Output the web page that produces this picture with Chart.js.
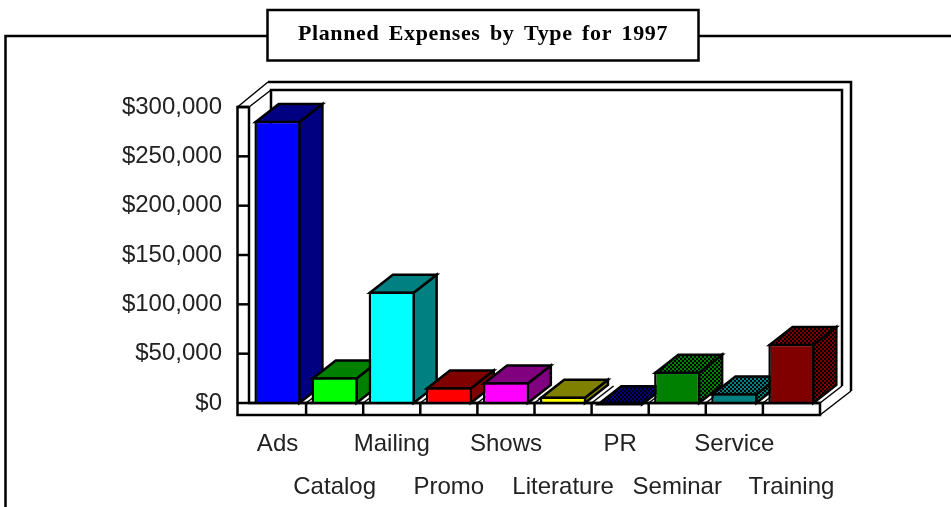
<!DOCTYPE html>
<html>
<head>
<meta charset="utf-8">
<style>html,body{margin:0;padding:0;background:#fff}canvas{display:block}</style>
<script src="https://cdn.jsdelivr.net/npm/chart.js@4"></script>
</head>
<body>
<canvas id="c" width="951" height="507"></canvas>
<script>
const chartTitle = "Planned Expenses by Type for 1997";
const categories = ["Ads","Catalog","Mailing","Promo","Shows","Literature","PR","Seminar","Service","Training"];
const plannedExpenses = [286000,26000,113000,16000,21000,6500,0,32000,10000,60000];
const frontColors = ["#0000ff","#00ff00","#00ffff","#ff0000","#ff00ff","#ffff00","#000080","#008000","#008080","#800000"];
const depthColors = ["#000080","#008000","#008080","#800000","#800080","#808000","#000080","#008000","#008080","#800000"];
const ditheredDepth = [false,false,false,false,false,false,true,true,true,true];

const INK = "#000";
const DEPTH = {x:22, y:17};
const BAR_DEPTH = {x:23, y:18};
const OUTER = {x:31, y:25};

function dither(ctx, color){
  const p = document.createElement("canvas");
  p.width = p.height = 4;
  const g = p.getContext("2d");
  g.fillStyle = "#000"; g.fillRect(0,0,4,4);
  g.fillStyle = color; g.fillRect(0,0,2,2); g.fillRect(2,2,2,2);
  return ctx.createPattern(p,"repeat");
}
function line(ctx, pts){
  ctx.beginPath();
  pts.forEach((p,i)=> i ? ctx.lineTo(p[0],p[1]) : ctx.moveTo(p[0],p[1]));
  ctx.stroke();
}
function poly(ctx, pts, fill){
  ctx.beginPath();
  pts.forEach((p,i)=> i ? ctx.lineTo(p[0],p[1]) : ctx.moveTo(p[0],p[1]));
  ctx.closePath();
  ctx.fillStyle = fill; ctx.fill(); ctx.stroke();
}

const scene = {
  id: "scene",
  beforeDraw(chart){
    const ctx = chart.ctx;
    ctx.save();
    ctx.fillStyle = "#fff"; ctx.fillRect(0,0,chart.width,chart.height);
    ctx.strokeStyle = INK; ctx.lineWidth = 2.5;
    line(ctx, [[5.5,507],[5.5,36],[951,36]]);
    ctx.fillStyle = "#fff";
    ctx.fillRect(267.5,10,431,50.5);
    ctx.strokeRect(267.5,10,431,50.5);
    ctx.restore();
    ctx.wordSpacing = "3.5px";
    ctx.letterSpacing = "0.6px";
  },
  beforeDatasetsDraw(chart){
    const ctx = chart.ctx, a = chart.chartArea, ys = chart.scales.y;
    ctx.wordSpacing = "0px"; ctx.letterSpacing = "0px";
    ctx.save();
    ctx.strokeStyle = INK; ctx.lineWidth = 2.5; ctx.lineJoin = "miter";
    const wallW = 11.5, floorH = 12;
    const L = a.left, R = a.right, T = a.top, B = a.bottom;
    // back wall
    line(ctx, [[L+DEPTH.x,B-DEPTH.y],[L+DEPTH.x,T-DEPTH.y],[R+DEPTH.x,T-DEPTH.y],[R+DEPTH.x,B-DEPTH.y]]);
    line(ctx, [[L-wallW+OUTER.x-.5,T-OUTER.y],[R+OUTER.x,T-OUTER.y],[R+OUTER.x,B+floorH-OUTER.y+1]]);
    // slanted edges
    ctx.lineWidth = 1.5;
    line(ctx, [[L-wallW,T],[L-wallW+OUTER.x-.5,T-OUTER.y]]);
    line(ctx, [[L,T],[L+DEPTH.x,T-DEPTH.y]]);
    line(ctx, [[R,B],[R+DEPTH.x,B-DEPTH.y]]);
    line(ctx, [[R,B+floorH],[R+OUTER.x,B+floorH-OUTER.y+1]]);
    // floor slants
    const n = categories.length, step = (R-L)/n;
    for(let i=1;i<n;i++){
      const x = L + i*step;
      line(ctx, [[x,B],[x+DEPTH.x,B-DEPTH.y]]);
    }
    // side wall and front floor
    ctx.lineWidth = 2.5;
    line(ctx, [[L,T],[L,B],[R,B],[R,B+floorH],[L-wallW,B+floorH],[L-wallW,T],[L,T]]);
    for(let i=1;i<n;i++){
      const x = L + i*step;
      line(ctx, [[x,B],[x,B+floorH]]);
    }
    ys.ticks.forEach((t,i)=>{
      const y = ys.getPixelForTick(i);
      line(ctx, [[L-wallW,y],[L,y]]);
    });
    // bar depth faces, painted left to right
    const meta = chart.getDatasetMeta(0);
    const inset = 1.25;
    meta.data.forEach((bar,i)=>{
      const hw = bar.width/2, l = bar.x-hw+inset, r = bar.x+hw-inset, t = bar.y+inset, b = bar.base;
      const fill = ditheredDepth[i] ? dither(ctx, depthColors[i]) : depthColors[i];
      poly(ctx, [[r,b],[r+BAR_DEPTH.x,b-BAR_DEPTH.y],[r+BAR_DEPTH.x,t-BAR_DEPTH.y],[r,t]], fill);
      poly(ctx, [[l,t],[l+BAR_DEPTH.x,t-BAR_DEPTH.y],[r+BAR_DEPTH.x,t-BAR_DEPTH.y],[r,t]], fill);
    });
    ctx.restore();
  },
  afterDatasetsDraw(chart){
    const ctx = chart.ctx, a = chart.chartArea;
    ctx.save();
    ctx.strokeStyle = INK; ctx.lineWidth = 2.5;
    line(ctx, [[a.left,a.bottom],[a.right,a.bottom]]);
    ctx.restore();
  }
};

new Chart(document.getElementById("c"), {
  type: "bar",
  data: {
    labels: categories.map((c,i)=> i%2 ? ["",c] : [c]),
    datasets: [{
      data: plannedExpenses,
      backgroundColor: frontColors,
      borderColor: INK,
      borderWidth: 2.5,
      borderSkipped: "bottom",
      barPercentage: 0.81,
      categoryPercentage: 1
    }]
  },
  options: {
    responsive: false,
    animation: false,
    events: [],
    layout: {padding: {left:15, right:0, top:0, bottom:0}},
    plugins: {
      legend: {display:false},
      tooltip: {enabled:false},
      title: {
        display: true,
        text: chartTitle,
        color: "#000",
        font: {family:"'Liberation Serif'", size:22, weight:"bold", lineHeight:"24px"},
        padding: {top:22, bottom:61}
      }
    },
    scales: {
      x: {
        grid: {display:false, drawTicks:false},
        border: {display:false},
        ticks: {
          z: 1,
          autoSkip:false, maxRotation:0, minRotation:0, padding:20, color:"#222",
          font: {family:"'Liberation Sans'", size:24, lineHeight:"43px"}
        },
        afterFit(s){ s.height = 104; }
      },
      y: {
        min: 0, max: 300000,
        grid: {display:false, drawTicks:false},
        border: {display:false},
        ticks: {
          z: 1,
          stepSize: 50000, padding: 27, color:"#222",
          font: {family:"'Liberation Sans'", size:24},
          callback: v => "$" + Number(v).toLocaleString("en-US")
        },
        afterFit(s){ s.width = 234; }
      },
      rightGutter: {
        axis: "y", position: "right", display: true,
        grid: {display:false, drawTicks:false},
        border: {display:false},
        ticks: {display:false},
        afterFit(s){ s.width = 131; }
      }
    }
  },
  plugins: [scene]
});
</script>
</body>
</html>
